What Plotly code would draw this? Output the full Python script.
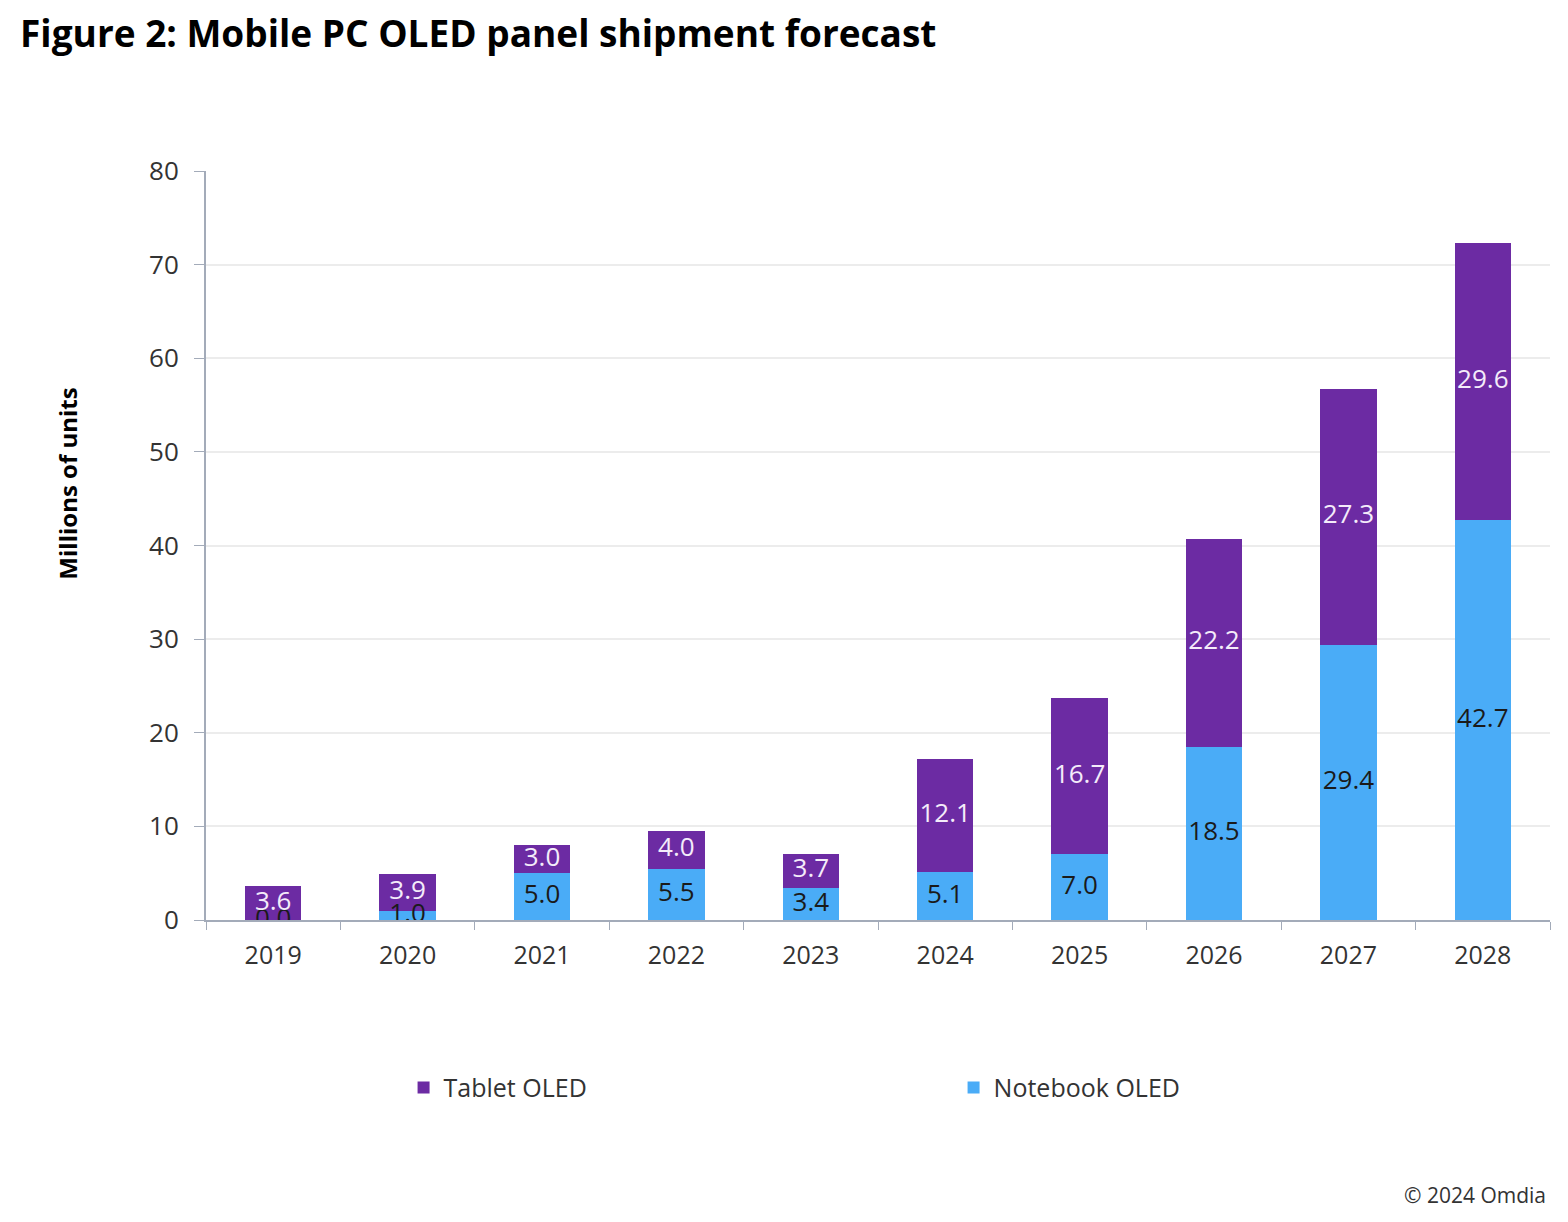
import plotly.graph_objects as go

years = ['2019', '2020', '2021', '2022', '2023', '2024', '2025', '2026', '2027', '2028']
notebook_oled = [0.0, 1.0, 5.0, 5.5, 3.4, 5.1, 7.0, 18.5, 29.4, 42.7]
tablet_oled = [3.6, 3.9, 3.0, 4.0, 3.7, 12.1, 16.7, 22.2, 27.3, 29.6]

PURPLE = '#6c2ba3'
BLUE = '#4aacf7'
AXIS = '#a3abb9'
FONT = 'Open Sans'

fig = go.Figure()

# stacked bars, notebook at the bottom
fig.add_trace(go.Bar(x=years, y=notebook_oled, name='Notebook OLED',
                     marker=dict(color=BLUE, line_width=0), width=0.42,
                     hoverinfo='x+y', legendrank=2))
fig.add_trace(go.Bar(x=years, y=tablet_oled, name='Tablet OLED',
                     marker=dict(color=PURPLE, line_width=0), width=0.42,
                     hoverinfo='x+y', legendrank=1))

# labels in the middle of each segment (kept as a text layer so 0.0 still shows)
nb_mid = [v / 2 for v in notebook_oled]
tb_mid = [n + t / 2 for n, t in zip(notebook_oled, tablet_oled)]
fig.add_trace(go.Scatter(x=years, y=nb_mid, mode='text',
                         text=[f'{v:.1f}' for v in notebook_oled],
                         textfont=dict(family=FONT, size=26, color='#1a1a1a'),
                         showlegend=False, hoverinfo='skip'))
fig.add_trace(go.Scatter(x=years, y=tb_mid, mode='text',
                         text=[f'{v:.1f}' for v in tablet_oled],
                         textfont=dict(family=FONT, size=26, color='#f4ecfa'),
                         showlegend=False, hoverinfo='skip'))

# the page puts the figure 8px in from the top left, so margins allow for that
fig.update_layout(
    width=1568, height=1222,
    barmode='stack',
    plot_bgcolor='white', paper_bgcolor='white',
    margin=dict(l=198, r=26, t=163, b=310, autoexpand=False),
    font=dict(family=FONT, color='#333333'),
    title=dict(text='<b>Figure 2: Mobile PC OLED panel shipment forecast</b>',
               x=0.0077, xanchor='left', y=0.979, yanchor='middle',
               font=dict(family=FONT, size=37, color='black')),
    legend=dict(orientation='h', x=0.147, xanchor='left', y=-0.224, yanchor='middle',
                font=dict(family=FONT, size=25, color='#333333'),
                entrywidth=505, itemwidth=30, traceorder='normal'),
    showlegend=True,
)

fig.update_xaxes(
    type='category', showline=True, linecolor=AXIS, linewidth=2,
    ticks='outside', tickson='boundaries', ticklen=8, tickcolor=AXIS,
    tickfont=dict(family=FONT, size=25, color='#333333'),
    ticklabelstandoff=12,
    showgrid=False, range=[-0.5, 9.5], automargin=False,
)
fig.update_yaxes(
    range=[0, 80], dtick=10, showline=True, linecolor=AXIS, linewidth=2,
    ticks='outside', ticklen=10, tickcolor=AXIS,
    tickfont=dict(family=FONT, size=26, color='#333333'),
    ticklabelstandoff=10,
    showgrid=True, gridcolor='#ececec', gridwidth=1.5, zeroline=False,
    automargin=False,
)

fig.add_annotation(text='<b>Millions of units</b>', textangle=-90,
                   xref='paper', yref='paper', x=-0.103, xanchor='center',
                   y=0.582, yanchor='middle', showarrow=False,
                   font=dict(family=FONT, size=24, color='black'))

fig.add_annotation(text='© 2024 Omdia', xref='paper', yref='paper',
                   x=0.9985, xanchor='right', y=-0.367, yanchor='middle',
                   showarrow=False, font=dict(family=FONT, size=21, color='#333333'))

fig.write_html('out.html')
